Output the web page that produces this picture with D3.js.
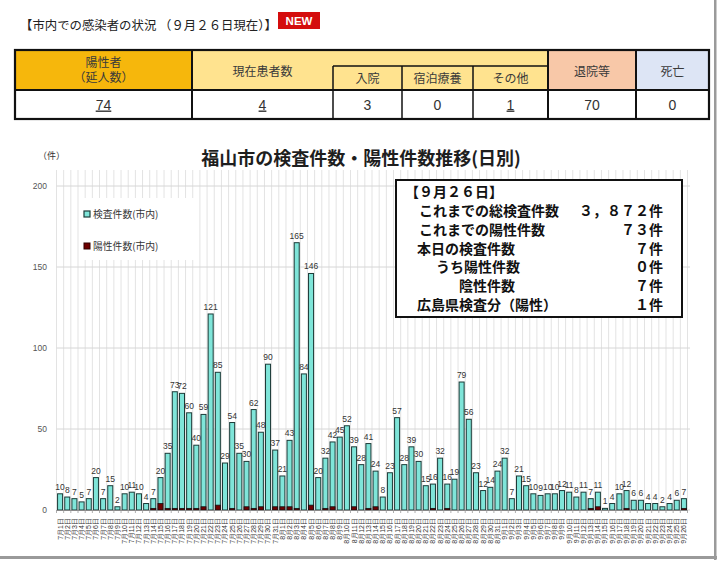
<!DOCTYPE html>
<html><head><meta charset="utf-8">
<script src="https://cdn.jsdelivr.net/npm/d3@7"></script>
<style>
body{margin:0;background:#fff;}
svg{display:block;font-family:"Noto Sans CJK JP","Noto Sans",sans-serif;}
</style>
</head><body>
<svg id="c" width="720" height="562"></svg>
<script>
// ---------- data ----------
const months = [7, 8, 9];
const daysInMonth = [31, 31, 26];
const tests = [10,8,7,5,7,20,7,15,2,10,
  11,10,4,7,20,35,73,72,60,40,
  59,121,85,29,54,35,30,62,48,90,
  37,21,43,165,84,146,20,32,42,45,
  52,39,28,41,24,8,23,57,28,39,
  30,15,16,32,16,19,79,56,23,12,
  14,24,32,7,21,15,10,9,10,10,
  12,11,8,11,7,11,1,4,10,12,
  6,6,4,4,2,4,6,7];
const positives = [0,0,0,0,0,0,0,0,0,0,
  0,0,0,1,4,1,1,1,1,1,
  2,0,3,0,1,0,2,1,2,0,
  2,2,2,1,0,3,0,1,2,0,
  0,2,0,1,2,0,0,0,0,0,
  0,0,1,0,1,0,0,0,0,0,
  0,0,0,0,0,0,0,0,0,0,
  0,0,0,0,1,2,0,0,0,1,
  0,0,0,0,0,0,0,1];
const yTicks = [0, 50, 100, 150, 200];
const seriesNames = ["検査件数(市内)", "陽性件数(市内)"];
const chartTitle = "福山市の検査件数・陽性件数推移(日別)";
const unitLabel = "（件）";
const pageHeading = "【市内での感染者の状況 （９月２６日現在）】";
const tableHeaders = ["陽性者\n（延人数）", "現在患者数", "入院", "宿泊療養", "その他", "退院等", "死亡"];
const tableValues = ["74", "4", "3", "0", "1", "70", "0"];
const tableUnderlined = [true, true, false, false, true, false, false];
const infoTitle = "【９月２６日】";
const infoLabels = ["これまでの総検査件数", "これまでの陽性件数", "本日の検査件数", "うち陽性件数", "陰性件数", "広島県検査分（陽性）"];
const infoValues = ["３，８７２件", "７３件", "７件", "０件", "７件", "１件"];

// date labels built from month / day-count lists
const dates = [];
months.forEach((m, mi) => { for (let d = 1; d <= daysInMonth[mi]; d++) dates.push(m + "月" + d + "日"); });

const svg = d3.select("#c");

// ---------- page frame ----------
svg.append("rect").attr("x", 714).attr("y", 0).attr("width", 2.5).attr("height", 560).attr("fill", "#9a9a9a");
svg.append("rect").attr("x", 0).attr("y", 556).attr("width", 717).attr("height", 3).attr("fill", "#9a9a9a");

// ---------- heading ----------
svg.append("text").attr("x", 20).attr("y", 30).attr("font-size", 12.4).attr("fill", "#222").text(pageHeading);
svg.append("rect").attr("x", 278).attr("y", 12).attr("width", 42).attr("height", 17).attr("fill", "#d40d0d");
svg.append("text").attr("x", 299).attr("y", 25).attr("text-anchor", "middle").attr("font-size", 11.5)
  .attr("font-weight", "bold").attr("fill", "#fff").attr("font-family", "Liberation Sans, Arial, sans-serif").text("NEW");

// ---------- table ----------
const colEdges = [15, 192, 333, 402, 473, 548, 636, 709];
const tTop = 50, tSub = 66, tMid = 90, tBot = 119;
const T = svg.append("g");
T.append("rect").attr("x", colEdges[0]).attr("y", tTop).attr("width", colEdges[1]-colEdges[0]).attr("height", tMid-tTop).attr("fill", "#f6b70c");
T.append("rect").attr("x", colEdges[1]).attr("y", tTop).attr("width", colEdges[5]-colEdges[1]).attr("height", tMid-tTop).attr("fill", "#ffe38f");
T.append("rect").attr("x", colEdges[5]).attr("y", tTop).attr("width", colEdges[6]-colEdges[5]).attr("height", tMid-tTop).attr("fill", "#f8c8a8");
T.append("rect").attr("x", colEdges[6]).attr("y", tTop).attr("width", colEdges[7]-colEdges[6]).attr("height", tMid-tTop).attr("fill", "#dde5f5");
T.append("rect").attr("x", colEdges[0]).attr("y", tMid).attr("width", colEdges[7]-colEdges[0]).attr("height", tBot-tMid).attr("fill", "#fff");
const L = (x1,y1,x2,y2,w) => T.append("line").attr("x1",x1).attr("y1",y1).attr("x2",x2).attr("y2",y2).attr("stroke","#111").attr("stroke-width",w||1.5);
L(colEdges[0], tMid, colEdges[7], tMid, 2);
L(colEdges[2], tSub, colEdges[5], tSub, 1.5);
[1,5,6].forEach(i => L(colEdges[i], tTop, colEdges[i], tBot, 2));
[2,3,4].forEach(i => L(colEdges[i], tSub, colEdges[i], tBot, 1.5));
T.append("rect").attr("x", colEdges[0]).attr("y", tTop).attr("width", colEdges[7]-colEdges[0]).attr("height", tBot-tTop)
  .attr("fill", "none").attr("stroke", "#111").attr("stroke-width", 2.2);
const hPos = [
  {x:(colEdges[0]+colEdges[1])/2, y:[66.5,81.5]},
  {x:(colEdges[1]+colEdges[2])/2, y:[75.5]},
  {x:(colEdges[2]+colEdges[3])/2, y:[82.5]},
  {x:(colEdges[3]+colEdges[4])/2, y:[82.5]},
  {x:(colEdges[4]+colEdges[5])/2, y:[82.5]},
  {x:(colEdges[5]+colEdges[6])/2, y:[75.5]},
  {x:(colEdges[6]+colEdges[7])/2, y:[75.5]}
];
tableHeaders.forEach((h, i) => {
  h.split("\n").forEach((line, li) => {
    T.append("text").attr("x", hPos[i].x).attr("y", hPos[i].y[li]).attr("text-anchor", "middle")
      .attr("font-size", 12).attr("fill", "#3a3a3a").text(line);
  });
});
tableValues.forEach((v, i) => {
  const cx = (colEdges[i] + colEdges[i+1]) / 2;
  T.append("text").attr("x", cx).attr("y", 109.5).attr("text-anchor", "middle")
    .attr("font-size", 14).attr("fill", "#333").attr("font-family", "Liberation Sans, Arial, sans-serif")
    .attr("text-decoration", tableUnderlined[i] ? "underline" : null).text(v);
});

// ---------- chart ----------
const x = d3.scaleBand().domain(dates).range([56.5, 687.5]).paddingInner(0.3).paddingOuter(0.15);
const y = d3.scaleLinear().domain([0, 200]).range([510, 186]);
const step = x.step();

const G = svg.append("g");
G.selectAll(".vg").data(d3.range(dates.length + 1)).join("line")
  .attr("x1", k => 56.5 + k * step).attr("x2", k => 56.5 + k * step)
  .attr("y1", 170).attr("y2", 510).attr("stroke", "#e3e3e3").attr("stroke-width", 1);
G.selectAll(".hg").data(yTicks).join("line")
  .attr("x1", 56.5).attr("x2", 690).attr("y1", d => y(d)).attr("y2", d => y(d))
  .attr("stroke", "#d6d6d6").attr("stroke-width", 1);

const yAxis = d3.axisLeft(y).tickValues(yTicks).tickSize(0).tickPadding(0);
const ya = G.append("g").attr("transform", "translate(47,0)").call(yAxis);
ya.select(".domain").remove();
ya.selectAll("text").attr("font-size", 8.5).attr("fill", "#555").attr("font-family", "Liberation Sans, Arial, sans-serif");

svg.append("text").attr("x", 38).attr("y", 159).attr("font-size", 9).attr("fill", "#333").text(unitLabel);
svg.append("text").attr("x", 361).attr("y", 165).attr("text-anchor", "middle").attr("font-size", 18)
  .attr("font-weight", "bold").attr("fill", "#1e1e1e").text(chartTitle);

// legend (white backing)
svg.append("rect").attr("x", 80).attr("y", 198).attr("width", 115).attr("height", 62).attr("fill", "#fff");
svg.append("rect").attr("x", 84).attr("y", 211).attr("width", 6).attr("height", 6).attr("fill", "#7fe5d9").attr("stroke", "#1d3d3a").attr("stroke-width", 1.2);
svg.append("rect").attr("x", 84).attr("y", 243).attr("width", 6).attr("height", 6).attr("fill", "#6e0000").attr("stroke", "#300").attr("stroke-width", 1);
svg.append("text").attr("x", 93).attr("y", 218).attr("font-size", 9.8).attr("fill", "#333").text(seriesNames[0]);
svg.append("text").attr("x", 93).attr("y", 250).attr("font-size", 9.8).attr("fill", "#333").text(seriesNames[1]);

// info box
svg.append("rect").attr("x", 396).attr("y", 180).attr("width", 286).attr("height", 137)
  .attr("fill", "#fff").attr("stroke", "#111").attr("stroke-width", 2);
const infoG = svg.append("g").attr("font-size", 14).attr("fill", "#111").attr("font-weight", "bold");
infoG.append("text").attr("x", 405).attr("y", 197).text(infoTitle);
const infoX = [419, 419, 417, 436, 459, 417];
infoLabels.forEach((t, i) => {
  const yy = 216 + i * 18.8;
  infoG.append("text").attr("x", infoX[i]).attr("y", yy).text(t);
  infoG.append("text").attr("x", 663).attr("y", yy).attr("text-anchor", "end").text(infoValues[i]);
});

// bars
G.selectAll(".bt").data(tests).join("rect")
  .attr("x", (d, i) => x(dates[i])).attr("width", x.bandwidth())
  .attr("y", d => y(d)).attr("height", d => y(0) - y(d))
  .attr("fill", "#7fe5d9").attr("stroke", "#1b3a37").attr("stroke-width", 1);
G.selectAll(".bp").data(positives).join("rect")
  .attr("x", (d, i) => x(dates[i])).attr("width", x.bandwidth())
  .attr("y", d => y(d)).attr("height", d => y(0) - y(d))
  .attr("fill", "#6e0000").attr("stroke", "#111").attr("stroke-width", d => d > 0 ? 0.8 : 0);

// value labels
G.selectAll(".vl").data(tests).join("text")
  .attr("x", (d, i) => x(dates[i]) + x.bandwidth() / 2).attr("y", d => y(d) - 4)
  .attr("text-anchor", "middle").attr("font-size", 8.5).attr("fill", "#333")
  .attr("font-family", "Liberation Sans, Arial, sans-serif").text(d => d);

// x axis
const xAxis = d3.axisBottom(x).tickSize(0).tickPadding(0);
const xa = G.append("g").attr("transform", "translate(0,510)").call(xAxis);
xa.select(".domain").attr("stroke", "#888").attr("d", "M56.5,0.5H687.5");
xa.selectAll("text").attr("font-size", 7).attr("fill", "#333")
  .attr("transform", "translate(0,8) rotate(-90)").attr("text-anchor", "end")
  .attr("dy", "0.35em").attr("dx", "0").attr("y", 0).attr("x", 0);
G.selectAll(".xt").data(d3.range(dates.length + 1)).join("line")
  .attr("x1", k => 56.5 + k * step).attr("x2", k => 56.5 + k * step)
  .attr("y1", 510).attr("y2", 513).attr("stroke", "#999").attr("stroke-width", 0.8);
</script>
</body></html>
